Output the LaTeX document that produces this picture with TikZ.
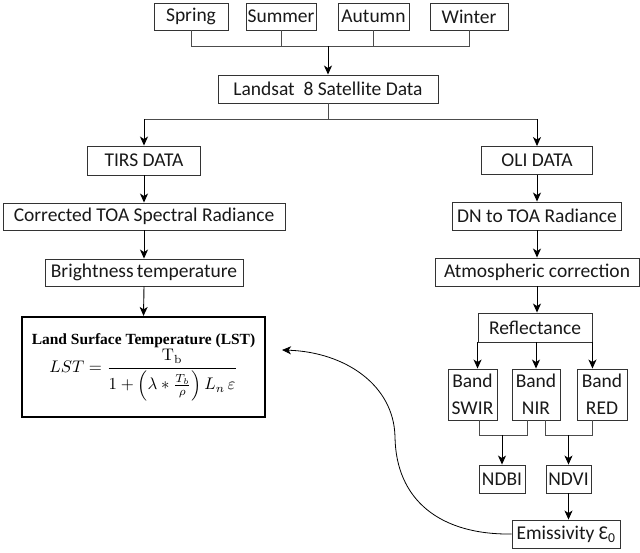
\documentclass[tikz,border=0pt]{standalone}
\usepackage[no-math]{fontspec}
\usepackage{graphicx}
\setmainfont{Carlito}
\newfontfamily\timesf{Liberation Serif}
\usetikzlibrary{arrows.meta}
\begin{document}
\begin{tikzpicture}[x=1pt,y=-1pt,
  box/.style={draw=black!80,line width=0.9pt,inner sep=0pt,minimum height=28pt,
    font=\fontsize{19.5}{27}\selectfont,text=black!90,align=center},
  arr/.style={line width=0.9pt,draw=black,-{Stealth[length=9pt,width=8pt,inset=2.5pt]}},
  ln/.style={line width=0.9pt,draw=black!70}]
\path[use as bounding box,fill=white] (0,0) rectangle (640,552);
% seasons
\node[box,minimum width=74pt,minimum height=27pt] (spring) at (191,16.5) {Spring};
\node[box,minimum width=70pt,minimum height=27pt] (summer) at (281,16.5) {Summer};
\node[box,minimum width=71pt,minimum height=27pt] (autumn) at (373.5,16.5) {Autumn};
\node[box,minimum width=78pt,minimum height=27pt] (winter) at (469,16.5) {Winter};
\node[box,minimum width=220pt] (landsat) at (328,89) {Landsat\ \ 8 Satellite Data};
% left column
\node[box,minimum width=113pt,minimum height=29pt] (tirs) at (144,160.5) {TIRS DATA};
\node[box,minimum width=282pt,minimum height=27pt] (corr) at (144,216.5) {Corrected TOA Spectral Radiance};
\node[box,minimum width=198pt,minimum height=27pt] (bright) at (144,272.5) {Brightness\,temperature};
\node[draw=black,line width=2.2pt,minimum width=243pt,minimum height=100pt,inner sep=0pt,
  align=center,font=\timesf\fontsize{15.5}{18}\selectfont] (lst) at (143.5,367)
  {\textbf{Land Surface Temperature (LST)}\\[1pt]
   \scalebox{1.68}{\fontsize{10}{12}\selectfont
   $\displaystyle LST=\frac{\mathrm{T_b}}{1+\left(\lambda*\frac{T_b}{\rho}\right)L_n\,\varepsilon}$}};
% right column
\node[box,minimum width=111pt,minimum height=28pt] (oli) at (537,160.5) {OLI DATA};
\node[box,minimum width=169pt,minimum height=28pt] (dn) at (537,216) {DN to TOA Radiance};
\node[box,minimum width=204pt,minimum height=28pt] (atm) at (537,272) {Atmospheric correction};
\node[box,minimum width=114pt,minimum height=29pt] (refl) at (535,327.5) {Reflectance};
\node[box,minimum width=49pt,minimum height=51pt] (swir) at (472.5,394.5) {Band\\SWIR};
\node[box,minimum width=48pt,minimum height=51pt] (nir) at (536,394.5) {Band\\NIR};
\node[box,minimum width=50pt,minimum height=51pt] (red) at (602,394.5) {Band\\RED};
\node[box,minimum width=46pt,minimum height=28pt] (ndbi) at (502,479) {NDBI};
\node[box,minimum width=45pt,minimum height=28pt] (ndvi) at (568.5,479) {NDVI};
\node[box,minimum width=108pt,minimum height=28pt] (emis) at (566,534) {Emissivity Ɛ\textsubscript{0}};
% connectors top
\draw[ln] (spring.south) -- (spring.south |- 0,46) -- (winter.south |- 0,46) -- (winter.south);
\draw[ln] (summer.south) -- (summer.south |- 0,46);
\draw[ln] (autumn.south) -- (autumn.south |- 0,46);
\draw[arr] (landsat.north |- 0,46) -- (landsat.north);
\draw[ln] (landsat.south) -- (landsat.south |- 0,119);
\draw[ln] (tirs.north |- 0,119) -- (oli.north |- 0,119);
\draw[arr] (tirs.north |- 0,119) -- (tirs.north);
\draw[arr] (oli.north |- 0,119) -- (oli.north);
% left chain
\draw[arr] (tirs.south) -- (corr.north);
\draw[arr] (corr.south) -- (bright.north);
\draw[arr] (bright.south) -- (lst.north);
% right chain
\draw[arr] (oli.south) -- (dn.north);
\draw[arr] (dn.south) -- (atm.north);
\draw[arr] (atm.south) -- (atm.south |- refl.north);
\draw[arr] (refl.south west) -- (refl.south west |- swir.north);
\draw[arr] (nir.north |- refl.south) -- (nir.north);
\draw[arr] (refl.south east) -- (refl.south east |- red.north);
\draw[ln] ([xshift=6.5pt]swir.south) -- ++(0,15) -| ([xshift=-9pt]nir.south);
\draw[arr] (ndbi.north |- 0,435) -- (ndbi.north);
\draw[ln] ([xshift=9pt]nir.south) -- ++(0,15) -| ([xshift=-10pt]red.south);
\draw[arr] (ndvi.north |- 0,435) -- (ndvi.north);
\draw[arr] (ndvi.south) -- (ndvi.south |- emis.north);
% feedback curve
\coordinate (lstin) at (282,350);
\draw[arr,line width=0.8pt] (emis.west) .. controls (440,535) and (396,500) .. (395,437)
  .. controls (394,385) and (345,352) .. (lstin);
\end{tikzpicture}
\end{document}
